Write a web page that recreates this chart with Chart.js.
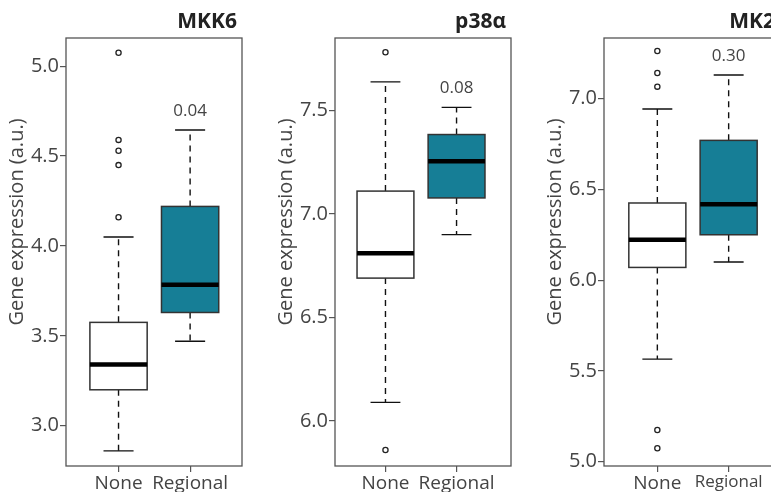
<!DOCTYPE html>
<html>
<head>
<meta charset="utf-8">
<script src="https://cdn.jsdelivr.net/npm/chart.js@4/dist/chart.umd.min.js"></script>
<style>
  body { margin: 0; background: #fff; overflow: hidden; width: 771px; height: 492px; position: relative; }
  .panel { position: absolute; top: 0; height: 492px; }
</style>
</head>
<body>
<div class="panel" style="left:0px;width:257px"><canvas id="mkk6" width="257" height="492"></canvas></div>
<div class="panel" style="left:257px;width:268px"><canvas id="p38" width="268" height="492"></canvas></div>
<div class="panel" style="left:525px;width:275px"><canvas id="mk2" width="275" height="492"></canvas></div>
<script>
const categories = ['None', 'Regional'];

// whisker low, q1, median, q3, whisker high
const mkk6None = [2.86, 3.20, 3.34, 3.575, 4.05];
const mkk6Regional = [3.47, 3.63, 3.785, 4.22, 4.645];
const mkk6Outliers = [5.075, 4.59, 4.53, 4.45, 4.16];
const mkk6Ticks = [3.0, 3.5, 4.0, 4.5, 5.0];

const p38None = [6.09, 6.69, 6.81, 7.11, 7.637];
const p38Regional = [6.90, 7.077, 7.254, 7.383, 7.514];
const p38Outliers = [7.78, 5.86];
const p38Ticks = [6.0, 6.5, 7.0, 7.5];

const mk2None = [5.565, 6.07, 6.223, 6.425, 6.943];
const mk2Regional = [6.10, 6.25, 6.418, 6.77, 7.13];
const mk2Outliers = [7.262, 7.141, 7.066, 5.174, 5.074];
const mk2Ticks = [5.0, 5.5, 6.0, 6.5, 7.0];

const titles = ['MKK6', 'p38α', 'MK2'];
const pValues = ['0.04', '0.08', '0.30'];

const textColor = '#444';
const tealFill = '#167e96';

const boxPlugin = {
  id: 'boxes',
  beforeDatasetsDraw(chart) {
    const o = chart.options.plugins.boxes;
    const x = chart.scales.x, y = chart.scales.y;
    const ctx = chart.ctx;
    ctx.save();
    o.stats.forEach(function (s, i) {
      const cx = x.getPixelForValue(i + 1);
      const half = x.getPixelForValue(i + 1 + 0.4) - cx;
      const cap = x.getPixelForValue(i + 1 + 0.21) - cx;
      const yl = y.getPixelForValue(s[0]);
      const y1 = y.getPixelForValue(s[1]);
      const ym = y.getPixelForValue(s[2]);
      const y3 = y.getPixelForValue(s[3]);
      const yh = y.getPixelForValue(s[4]);
      // whiskers
      ctx.strokeStyle = '#111';
      ctx.lineWidth = 1.4;
      ctx.setLineDash([6, 5]);
      ctx.beginPath();
      ctx.moveTo(cx, y3); ctx.lineTo(cx, yh);
      ctx.moveTo(cx, y1); ctx.lineTo(cx, yl);
      ctx.stroke();
      ctx.setLineDash([]);
      ctx.beginPath();
      ctx.moveTo(cx - cap, yh); ctx.lineTo(cx + cap, yh);
      ctx.moveTo(cx - cap, yl); ctx.lineTo(cx + cap, yl);
      ctx.stroke();
      // box
      ctx.fillStyle = o.fills[i];
      ctx.fillRect(cx - half, y3, half * 2, y1 - y3);
      ctx.strokeStyle = '#333';
      ctx.lineWidth = 1.5;
      ctx.strokeRect(cx - half, y3, half * 2, y1 - y3);
      // median
      ctx.strokeStyle = '#000';
      ctx.lineWidth = 4.5;
      ctx.beginPath();
      ctx.moveTo(cx - half, ym); ctx.lineTo(cx + half, ym);
      ctx.stroke();
    });
    // p value over the regional group
    const reg = o.stats[1];
    ctx.fillStyle = textColor;
    ctx.font = '17px "Open Sans"';
    ctx.textAlign = 'center';
    ctx.textBaseline = 'middle';
    ctx.fillText(o.pValue, x.getPixelForValue(2), y.getPixelForValue(reg[4]) - 19);
    ctx.restore();
  },
  afterDraw(chart) {
    const o = chart.options.plugins.boxes;
    const a = chart.chartArea;
    const ctx = chart.ctx;
    ctx.save();
    ctx.strokeStyle = '#555';
    ctx.lineWidth = 1.3;
    ctx.strokeRect(a.left, a.top, a.right - a.left, a.bottom - a.top);
    ctx.fillStyle = '#222';
    ctx.font = 'bold 21px "Open Sans"';
    ctx.textAlign = 'right';
    ctx.textBaseline = 'alphabetic';
    ctx.fillText(o.title, a.right - 5, 28);
    ctx.translate(a.left - 49, a.top + 184);
    ctx.rotate(-Math.PI / 2);
    ctx.fillStyle = textColor;
    ctx.font = '20px "Open Sans"';
    ctx.textAlign = 'center';
    ctx.textBaseline = 'middle';
    ctx.fillText('Gene expression (a.u.)', 0, 0);
    ctx.restore();
  }
};

function makePanel(id, opts) {
  const outlierPts = opts.outliers.map(function (v) { return { x: 1, y: v }; });
  new Chart(document.getElementById(id), {
    type: 'scatter',
    data: {
      datasets: [{
        data: outlierPts,
        pointRadius: 2.6,
        pointBorderWidth: 1.3,
        pointBackgroundColor: '#fff',
        pointBorderColor: '#222'
      }]
    },
    plugins: [boxPlugin],
    options: {
      responsive: false,
      animation: false,
      layout: { padding: { top: 38, right: opts.right, left: 0, bottom: 0 } },
      plugins: {
        legend: { display: false },
        tooltip: { enabled: false },
        boxes: { stats: opts.stats, fills: ['#fff', tealFill], title: opts.title, pValue: opts.pValue }
      },
      scales: {
        x: {
          type: 'linear',
          min: opts.xRange[0],
          max: opts.xRange[1],
          afterBuildTicks: function (s) { s.ticks = [{ value: 1 }, { value: 2 }]; },
          afterFit: function (s) { s.height = 26; },
          border: { display: false },
          grid: { drawOnChartArea: false, tickLength: 6, color: '#555', lineWidth: 1.2 },
          ticks: {
            padding: 0,
            color: textColor,
            maxRotation: 0,
            font: function (c) { return { family: 'Open Sans', size: (opts.smallRegional && c.index === 1) ? 17 : 19 }; },
            callback: function (v) { return categories[v - 1]; }
          }
        },
        y: {
          min: opts.yRange[0],
          max: opts.yRange[1],
          afterBuildTicks: function (s) { s.ticks = opts.ticks.map(function (v) { return { value: v }; }); },
          afterFit: function (s) { s.width = opts.axisWidth; },
          border: { display: false },
          grid: { drawOnChartArea: false, tickLength: 6, color: '#555', lineWidth: 1.2 },
          ticks: {
            padding: 1,
            color: textColor,
            font: { family: 'Open Sans', size: 20 },
            callback: function (v) { return v.toFixed(1); }
          }
        }
      }
    }
  });
}

makePanel('mkk6', {
  stats: [mkk6None, mkk6Regional], outliers: mkk6Outliers,
  ticks: mkk6Ticks, yRange: [2.776, 5.157], xRange: [0.266, 2.725],
  title: titles[0], pValue: pValues[0], axisWidth: 66, right: 15
});
makePanel('p38', {
  stats: [p38None, p38Regional], outliers: p38Outliers,
  ticks: p38Ticks, yRange: [5.783, 7.849], xRange: [0.29, 2.766],
  title: titles[1], pValue: pValues[1], axisWidth: 78, right: 14
});
makePanel('mk2', {
  stats: [mk2None, mk2Regional], outliers: mk2Outliers,
  ticks: mk2Ticks, yRange: [4.976, 7.334], xRange: [0.252, 2.72],
  title: titles[2], pValue: pValues[2], axisWidth: 79, right: 20, smallRegional: true
});
</script>
</body>
</html>
